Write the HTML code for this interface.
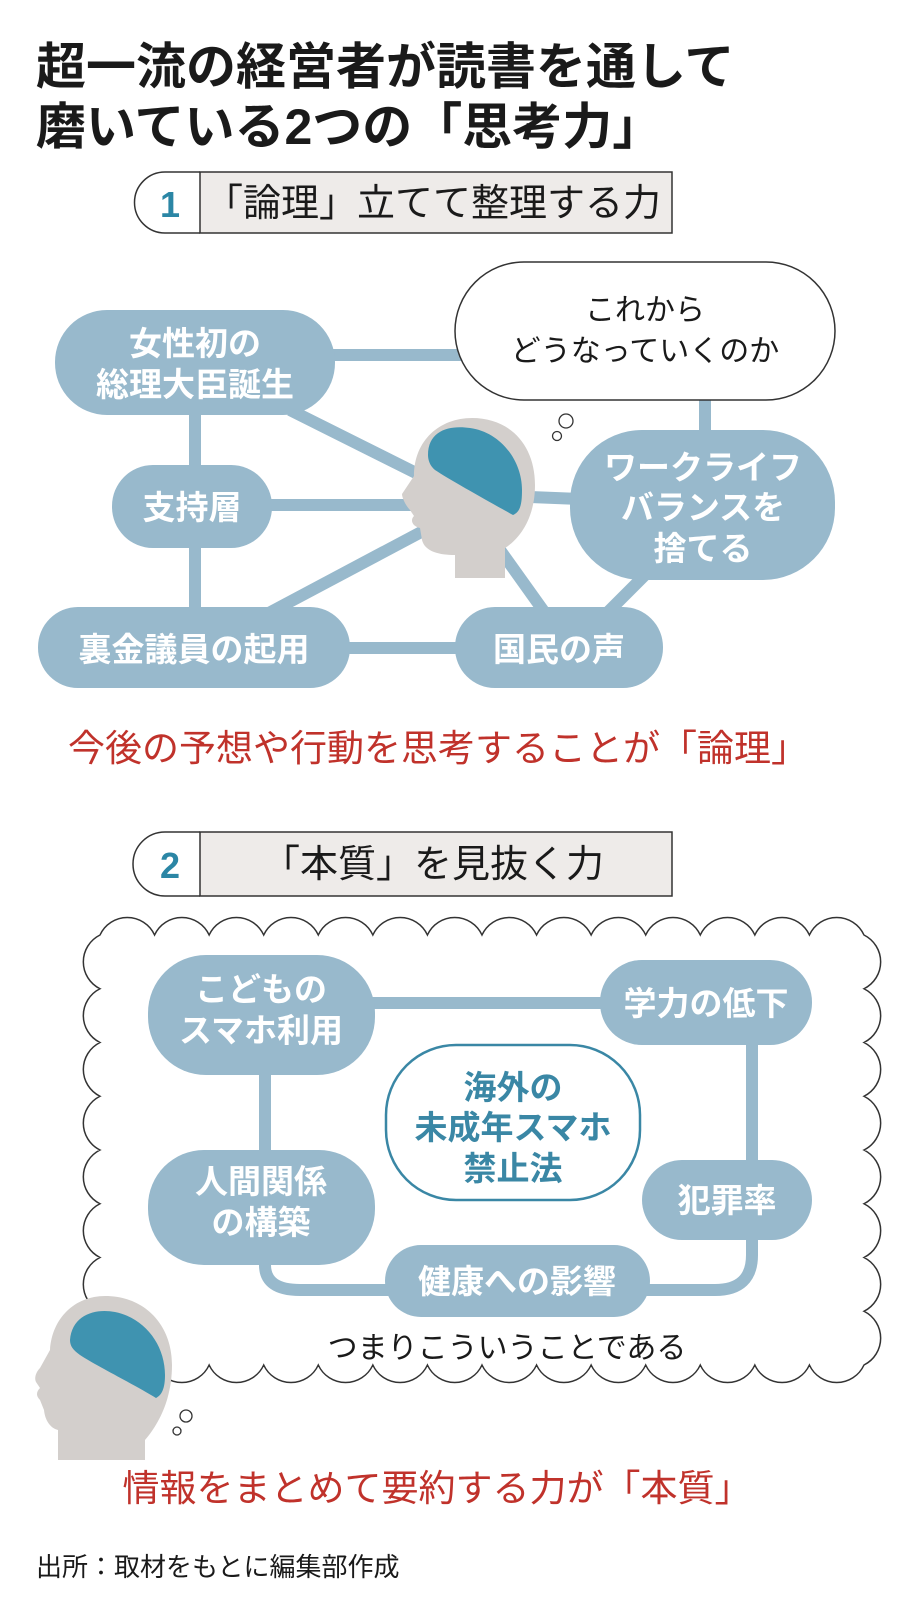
<!DOCTYPE html>
<html><head><meta charset="utf-8"><style>
body{margin:0;background:#fff;}
svg text{font-family:"Liberation Sans","Noto Sans CJK JP",sans-serif;}
</style></head><body>
<svg width="920" height="1607" viewBox="0 0 920 1607" xmlns="http://www.w3.org/2000/svg">
<rect width="920" height="1607" fill="#fff"/>
<g font-weight="bold" font-size="50" fill="#1a1a1a">
<text x="36" y="84">超一流の経営者が読書を通して</text>
<text x="36" y="144">磨いている2つの「思考力」</text>
</g>
<!-- header 1 -->
<path d="M200,172 H165 a30,30 0 0 0 0,61 H200" fill="#fff" stroke="#333" stroke-width="1.5"/>
<rect x="200" y="172" width="472" height="61" fill="#eeebe9" stroke="#333" stroke-width="1.5"/>
<text x="170" y="217" font-size="36" font-weight="bold" fill="#2b86a5" text-anchor="middle">1</text>
<text x="433" y="216" font-size="38" fill="#1a1a1a" text-anchor="middle">「論理」立てて整理する力</text>
<!-- lines 1 -->
<g stroke="#98b9cc" stroke-width="12" fill="none">
<line x1="330" y1="355" x2="470" y2="355"/>
<line x1="195" y1="400" x2="195" y2="620"/>
<line x1="290" y1="410" x2="430" y2="480"/>
<line x1="260" y1="505" x2="420" y2="505"/>
<line x1="265" y1="615" x2="425" y2="530"/>
<line x1="340" y1="648" x2="470" y2="648"/>
<line x1="500" y1="550" x2="550" y2="620"/>
<line x1="530" y1="497" x2="580" y2="499"/>
<line x1="650" y1="570" x2="600" y2="620"/>
<line x1="705" y1="390" x2="705" y2="440"/>
</g>
<!-- nodes 1 -->
<g fill="#98b9cc">
<rect x="55" y="310" width="280" height="105" rx="52"/>
<rect x="112" y="465" width="160" height="83" rx="41"/>
<rect x="38" y="607" width="312" height="81" rx="40"/>
<rect x="455" y="607" width="208" height="81" rx="40"/>
<rect x="570" y="430" width="265" height="150" rx="72"/>
</g>
<g fill="#fff" font-size="33" font-weight="bold" text-anchor="middle">
<text x="195" y="355">女性初の</text>
<text x="195" y="396">総理大臣誕生</text>
<text x="192" y="519">支持層</text>
<text x="194" y="661">裏金議員の起用</text>
<text x="559" y="661">国民の声</text>
<text x="703" y="479">ワークライフ</text>
<text x="703" y="519">バランスを</text>
<text x="703" y="560">捨てる</text>
</g>
<!-- bubble -->
<rect x="455" y="262" width="380" height="138" rx="69" fill="#fff" stroke="#333" stroke-width="1.5"/>
<circle cx="566" cy="421" r="7" fill="#fff" stroke="#333" stroke-width="1.3"/>
<circle cx="557" cy="436" r="4.5" fill="#fff" stroke="#333" stroke-width="1.3"/>
<g font-size="30" fill="#1a1a1a" text-anchor="middle">
<text x="645" y="320">これから</text>
<text x="645" y="361">どうなっていくのか</text>
</g>
<!-- head 1 -->
<path d="M455,578 L455,555 C440,555 425,552 422,540 L420,528 C412,526 410,520 414,516 L410,510 C406,506 402,498 402,494 L414,476 C414,440 440,418 472,418 C510,418 535,445 535,485 C535,520 518,540 505,548 L505,578 Z" fill="#d3cfcc"/>
<path d="M428,455 C428,430 450,425 470,428 C500,432 522,460 522,490 C522,505 520,512 513,515 C495,505 450,480 435,470 C430,466 428,460 428,455 Z" fill="#3f93b0"/>
<text x="438" y="761" font-size="37" fill="#c0322b" text-anchor="middle">今後の予想や行動を思考することが「論理」</text>
<!-- header 2 -->
<path d="M200,832 H165 a30,30 0 0 0 0,64 H200" fill="#fff" stroke="#333" stroke-width="1.5"/>
<rect x="200" y="832" width="472" height="64" fill="#eeebe9" stroke="#333" stroke-width="1.5"/>
<text x="170" y="878" font-size="36" font-weight="bold" fill="#2b86a5" text-anchor="middle">2</text>
<text x="433" y="877" font-size="38" fill="#1a1a1a" text-anchor="middle">「本質」を見抜く力</text>
<!-- cloud -->
<path d="M100,935
a30,30 0 0 1 54.57,0 a30,30 0 0 1 54.57,0 a30,30 0 0 1 54.57,0 a30,30 0 0 1 54.57,0 a30,30 0 0 1 54.57,0 a30,30 0 0 1 54.57,0 a30,30 0 0 1 54.57,0 a30,30 0 0 1 54.57,0 a30,30 0 0 1 54.57,0 a30,30 0 0 1 54.57,0 a30,30 0 0 1 54.57,0 a30,30 0 0 1 54.57,0 a30,30 0 0 1 54.57,0 a30,30 0 0 1 54.57,0
a30,30 0 0 1 0,53.75 a30,30 0 0 1 0,53.75 a30,30 0 0 1 0,53.75 a30,30 0 0 1 0,53.75 a30,30 0 0 1 0,53.75 a30,30 0 0 1 0,53.75 a30,30 0 0 1 0,53.75 a30,30 0 0 1 0,53.75
a30,30 0 0 1 -54.57,0 a30,30 0 0 1 -54.57,0 a30,30 0 0 1 -54.57,0 a30,30 0 0 1 -54.57,0 a30,30 0 0 1 -54.57,0 a30,30 0 0 1 -54.57,0 a30,30 0 0 1 -54.57,0 a30,30 0 0 1 -54.57,0 a30,30 0 0 1 -54.57,0 a30,30 0 0 1 -54.57,0 a30,30 0 0 1 -54.57,0 a30,30 0 0 1 -54.57,0 a30,30 0 0 1 -54.57,0 a30,30 0 0 1 -54.57,0
a30,30 0 0 1 0,-53.75 a30,30 0 0 1 0,-53.75 a30,30 0 0 1 0,-53.75 a30,30 0 0 1 0,-53.75 a30,30 0 0 1 0,-53.75 a30,30 0 0 1 0,-53.75 a30,30 0 0 1 0,-53.75 a30,30 0 0 1 0,-53.75 Z" fill="#fff" stroke="#333" stroke-width="1.5"/>
<!-- lines 2 -->
<g stroke="#98b9cc" stroke-width="12" fill="none">
<line x1="370" y1="1003" x2="605" y2="1003"/>
<line x1="265" y1="1070" x2="265" y2="1155"/>
<line x1="752" y1="1040" x2="752" y2="1165"/>
<path d="M265,1260 V1265 Q265,1290 300,1290 H395"/>
<path d="M640,1290 H715 Q752,1290 752,1255 V1235"/>
</g>
<g fill="#98b9cc">
<rect x="148" y="955" width="227" height="120" rx="58"/>
<rect x="600" y="960" width="212" height="85" rx="42"/>
<rect x="148" y="1150" width="227" height="115" rx="56"/>
<rect x="642" y="1160" width="170" height="80" rx="40"/>
<rect x="385" y="1245" width="265" height="72" rx="36"/>
</g>
<rect x="386" y="1045" width="254" height="155" rx="70" fill="#fff" stroke="#3a87a5" stroke-width="2.5"/>
<g fill="#fff" font-size="33" font-weight="bold" text-anchor="middle">
<text x="261" y="1001">こどもの</text>
<text x="261" y="1042">スマホ利用</text>
<text x="706" y="1015">学力の低下</text>
<text x="261" y="1193">人間関係</text>
<text x="261" y="1234">の構築</text>
<text x="727" y="1212">犯罪率</text>
<text x="517" y="1293">健康への影響</text>
</g>
<g fill="#3a87a5" font-size="33" font-weight="bold" text-anchor="middle">
<text x="513" y="1099">海外の</text>
<text x="513" y="1139">未成年スマホ</text>
<text x="513" y="1180">禁止法</text>
</g>
<text x="507" y="1358" font-size="30" fill="#1a1a1a" text-anchor="middle">つまりこういうことである</text>
<!-- head 2 -->
<path d="M58,1460 L58,1430 C50,1428 45,1420 44,1410 L40,1400 C36,1396 36,1392 40,1388 L36,1382 C34,1378 36,1372 40,1368 L50,1350 C52,1318 75,1296 105,1296 C145,1296 172,1325 172,1365 C172,1400 158,1425 145,1440 L145,1460 Z" fill="#d3cfcc"/>
<path d="M70,1340 C72,1315 95,1308 115,1312 C145,1318 165,1345 165,1375 C165,1388 162,1395 156,1398 C135,1385 95,1365 80,1355 C73,1350 70,1346 70,1340 Z" fill="#3f93b0"/>
<circle cx="186" cy="1416" r="6" fill="#fff" stroke="#333" stroke-width="1.3"/>
<circle cx="177" cy="1431" r="4" fill="#fff" stroke="#333" stroke-width="1.3"/>
<text x="437" y="1501" font-size="37" fill="#c0322b" text-anchor="middle">情報をまとめて要約する力が「本質」</text>
<text x="36" y="1576" font-size="26" fill="#1a1a1a">出所：取材をもとに編集部作成</text>
</svg>
</body></html>
